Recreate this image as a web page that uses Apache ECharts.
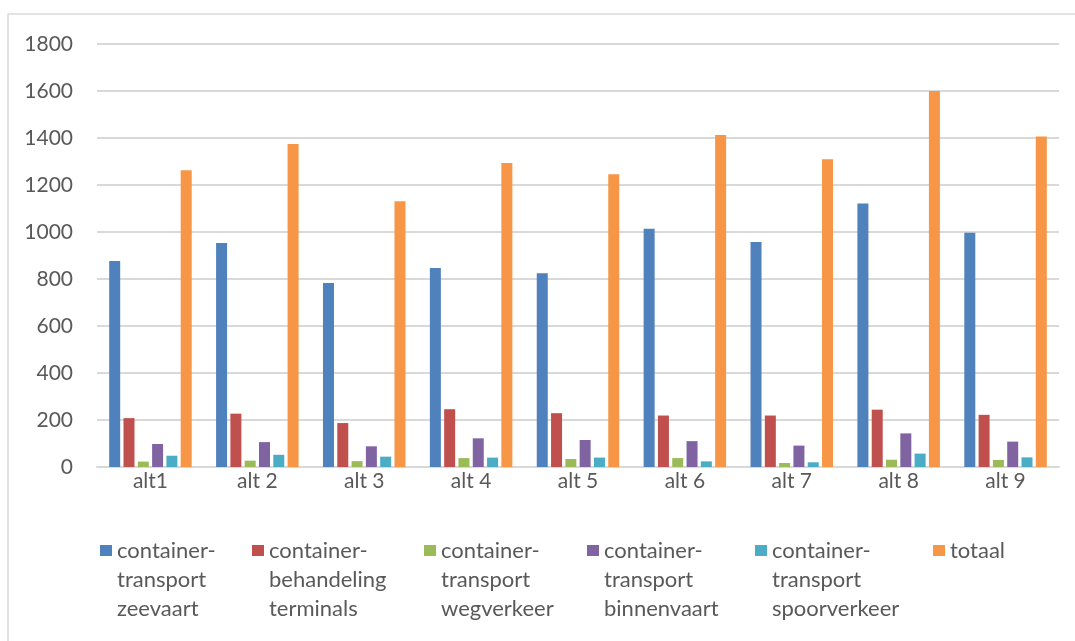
<!DOCTYPE html>
<html>
<head>
<meta charset="utf-8">
<title>Containertransport alternatieven</title>
<script src="https://cdn.jsdelivr.net/npm/echarts@6/dist/echarts.min.js"></script>
<style>
  html, body { margin: 0; padding: 0; background: #fff; }
  #main { width: 1075px; height: 641px; }
</style>
</head>
<body>
<div id="main"></div>
<script type="text/javascript">
// categorieen
var alternatives = ['alt1', 'alt 2', 'alt 3', 'alt 4', 'alt 5', 'alt 6', 'alt 7', 'alt 8', 'alt 9'];

// reeksen
var zeevaart      = [877, 953, 783, 847, 824, 1014, 957, 1121, 997];
var terminals     = [208, 227, 187, 246, 229, 219, 219, 244, 222];
var wegverkeer    = [23, 27, 25, 38, 34, 38, 17, 31, 30];
var binnenvaart   = [98, 106, 88, 122, 115, 110, 91, 143, 108];
var spoorverkeer  = [48, 52, 44, 40, 40, 24, 20, 57, 41];
var totaal        = [1263, 1374, 1131, 1294, 1246, 1413, 1310, 1600, 1406];

var seriesNames = [
    'container-\ntransport\nzeevaart',
    'container-\nbehandeling\nterminals',
    'container-\ntransport\nwegverkeer',
    'container-\ntransport\nbinnenvaart',
    'container-\ntransport\nspoorverkeer',
    'totaal'
];
var seriesData = [zeevaart, terminals, wegverkeer, binnenvaart, spoorverkeer, totaal];
var colors = ['#4F81BD', '#C0504D', '#9BBB59', '#8064A2', '#4BACC6', '#F79646'];
var legendLeft = [100, 252, 424, 587, 755, 933];

var FONT = 'Lato';
var TXT = '#595959';

var myChart = echarts.init(document.getElementById('main'));

// tekst met lege regels ervoor, zodat de eerste regel naast het blokje staat
var legends = seriesNames.map(function (name, i) {
    var multi = name.indexOf('\n') >= 0;
    return {
        data: [name],
        left: legendLeft[i],
        top: multi ? 478 : 536,
        orient: 'horizontal',
        padding: 0,
        itemWidth: 12,
        itemHeight: 11,
        itemGap: 0,
        icon: 'rect',
        selectedMode: false,
        formatter: function (n) {
            return multi ? '\n\n' + n : n;
        },
        textStyle: {
            fontFamily: FONT,
            fontSize: 22,
            color: TXT,
            lineHeight: 29
        }
    };
});

var option = {
    animation: false,
    color: colors,
    textStyle: { fontFamily: FONT },
    graphic: [{
        type: 'rect',
        shape: { x: 8, y: 14, width: 1100, height: 700 },
        style: { fill: 'none', stroke: '#d9d9d9', lineWidth: 1.5 },
        silent: true,
        z: -1
    }],
    legend: legends,
    grid: {
        left: 97,
        right: 16,
        top: 44,
        bottom: 174
    },
    xAxis: {
        type: 'category',
        data: alternatives,
        axisTick: { show: false },
        axisLine: { lineStyle: { color: '#d9d9d9', width: 2 } },
        axisLabel: {
            fontFamily: FONT,
            fontSize: 21,
            color: TXT,
            margin: 4
        }
    },
    yAxis: {
        type: 'value',
        min: 0,
        max: 1800,
        interval: 200,
        axisLine: { show: false },
        axisTick: { show: false },
        axisLabel: {
            fontFamily: FONT,
            fontSize: 21,
            color: TXT,
            margin: 24,
            formatter: function (v) { return String(v); }
        },
        splitLine: { lineStyle: { color: '#d9d9d9', width: 2 } }
    },
    series: seriesNames.map(function (name, i) {
        return {
            name: name,
            type: 'bar',
            data: seriesData[i],
            barWidth: 11,
            barGap: '30%',
            itemStyle: { color: colors[i] }
        };
    })
};

myChart.setOption(option);
</script>
</body>
</html>
